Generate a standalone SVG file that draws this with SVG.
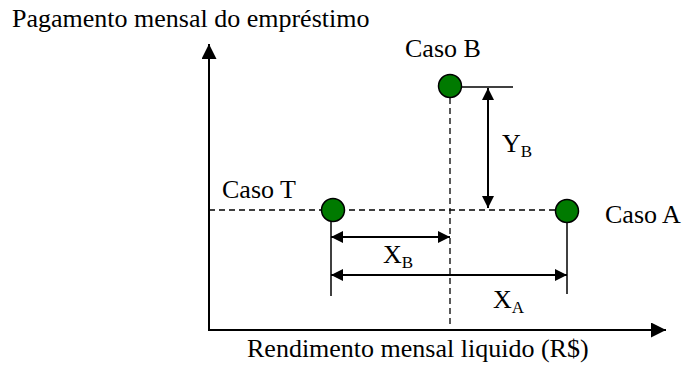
<svg xmlns="http://www.w3.org/2000/svg" width="683" height="374" viewBox="0 0 683 374">
<style>
text{font-family:"Liberation Serif","Times New Roman",serif;font-size:26px;fill:#000}
.sub{font-size:17px}
.ln{stroke:#000;stroke-width:1.5;fill:none}
.ds{stroke:#000;stroke-width:1.3;fill:none;stroke-dasharray:6,4}
.pt{fill:#007a00;stroke:#000;stroke-width:1.5}
</style>
<defs>
<marker id="ah" viewBox="0 0 10 10" refX="10" refY="5" markerWidth="12" markerHeight="12" markerUnits="userSpaceOnUse" orient="auto-start-reverse"><path d="M0,0L10,5L0,10z" fill="#000"/></marker>
<marker id="ax" viewBox="0 0 12 12" refX="12" refY="6" markerWidth="15" markerHeight="15" markerUnits="userSpaceOnUse" orient="auto"><path d="M0,0L12,6L0,12z" fill="#000"/></marker>
</defs>
<g id="axes">
<line class="ln" x1="209" y1="330" x2="209" y2="44" marker-end="url(#ax)" style="stroke-width:2"/>
<line class="ln" x1="208" y1="330" x2="666" y2="330" marker-end="url(#ax)" style="stroke-width:2"/>
<text x="12" y="27">Pagamento mensal do empréstimo</text>
<text x="247" y="357">Rendimento mensal liquido (R$)</text>
</g>
<g id="connectors">
<line class="ds" x1="209" y1="210" x2="556" y2="210"/>
<line class="ds" x1="450" y1="98" x2="450" y2="324"/>
<line class="ln" x1="462" y1="87" x2="513" y2="87"/>
<line class="ln" x1="331" y1="222" x2="331" y2="296"/>
<line class="ln" x1="567" y1="222" x2="567" y2="294"/>
<line class="ln" x1="488" y1="88" x2="488" y2="208" marker-start="url(#ah)" marker-end="url(#ah)" style="stroke-width:2"/>
<line class="ln" x1="331" y1="237" x2="450" y2="237" marker-start="url(#ah)" marker-end="url(#ah)" style="stroke-width:2"/>
<line class="ln" x1="331" y1="275" x2="567" y2="275" marker-start="url(#ah)" marker-end="url(#ah)" style="stroke-width:2"/>
</g>
<g id="caso-b"><circle class="pt" cx="450" cy="86" r="11.5"/><text x="405" y="57">Caso B</text></g>
<g id="caso-t"><circle class="pt" cx="333" cy="210" r="11.5"/><text x="222" y="198">Caso T</text></g>
<g id="caso-a"><circle class="pt" cx="567" cy="211" r="11.5"/><text x="605" y="223">Caso A</text></g>
<g id="labels">
<text x="502" y="152">Y<tspan class="sub" dy="5">B</tspan></text>
<text x="383" y="263">X<tspan class="sub" dy="5">B</tspan></text>
<text x="493" y="308">X<tspan class="sub" dy="5">A</tspan></text>
</g>
</svg>
